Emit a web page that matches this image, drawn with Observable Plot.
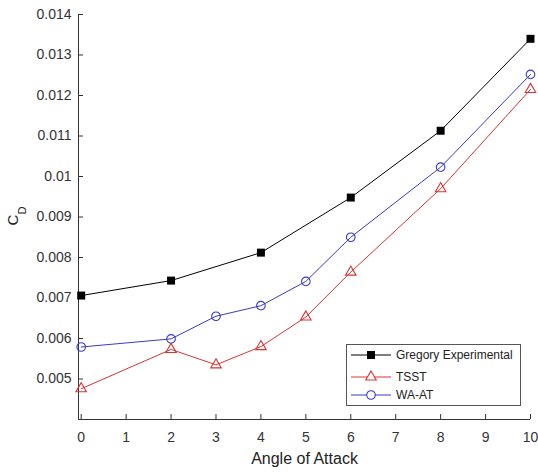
<!DOCTYPE html>
<html>
<head>
<meta charset="utf-8">
<script src="https://cdn.jsdelivr.net/npm/d3@7"></script>
<script src="https://cdn.jsdelivr.net/npm/@observablehq/plot@0.6"></script>
<style>
  html, body { margin: 0; padding: 0; background: #fff; }
  #wrap { position: relative; width: 538px; height: 473px; }
  #legend { position: absolute; left: 346px; top: 344px; width: 175px; height: 62px;
            border: 1px solid #555; background: #fff; box-sizing: border-box; }
</style>
</head>
<body>
<div id="wrap"></div>
<script>
// ---- data ----
const angles = [0, 2, 3, 4, 5, 6, 8, 10];
const gregoryAngles = [0, 2, 4, 6, 8, 10];
const gregory = [0.00706, 0.00743, 0.00812, 0.00948, 0.01113, 0.0134];
const tsst = [0.00476, 0.00573, 0.00535, 0.0058, 0.00653, 0.00764, 0.0097, 0.01215];
const waat = [0.00579, 0.00599, 0.00655, 0.00681, 0.00741, 0.0085, 0.01023, 0.01252];
const seriesNames = ["Gregory Experimental", "TSST", "WA-AT"];
const seriesColors = ["#000000", "#d83434", "#3a3ac8"];
const seriesSymbols = ["square", "triangle", "circle"];
const xTicks = [0, 1, 2, 3, 4, 5, 6, 7, 8, 9, 10];
const yTicks = [0.005, 0.006, 0.007, 0.008, 0.009, 0.01, 0.011, 0.012, 0.013, 0.014];
const xDomain = [-0.06, 10];
const yDomain = [0.004, 0.014];

const rows = [
  ...gregoryAngles.map((a, i) => ({s: 0, x: a, y: gregory[i]})),
  ...angles.map((a, i) => ({s: 1, x: a, y: tsst[i]})),
  ...angles.map((a, i) => ({s: 2, x: a, y: waat[i]}))
];

const axisColor = "#333";
const marks = [
  Plot.ruleX([xDomain[0]], {stroke: axisColor}),
  Plot.ruleY([yDomain[0]], {stroke: axisColor}),
  Plot.tickX(xTicks, {x: d => d, stroke: axisColor, insetTop: 400}),
  Plot.tickY(yTicks, {y: d => d, stroke: axisColor, insetRight: 447}),
  Plot.axisX({ticks: xTicks, tickSize: 0, tickPadding: 13, tickFormat: d => String(d), label: null}),
  Plot.axisY({ticks: yTicks, tickSize: 0, tickPadding: 7, tickFormat: d => String(d), label: null}),
  Plot.text(["Angle of Attack"], {frameAnchor: "bottom", dy: 44, lineAnchor: "bottom", fontSize: 16, fill: "#222"})
];
[0, 1, 2].forEach(s => {
  const data = rows.filter(r => r.s === s);
  marks.push(Plot.line(data, {x: "x", y: "y", stroke: seriesColors[s], strokeWidth: 1}));
});
[0, 1, 2].forEach(s => {
  const data = rows.filter(r => r.s === s);
  const filled = seriesSymbols[s] === "square";
  marks.push(Plot.dot(data, {
    x: "x", y: "y", symbol: () => seriesSymbols[s],
    r: s === 0 ? 4.5 : (s === 1 ? 3.9 : 4.3),
    fill: filled ? seriesColors[s] : "none",
    stroke: seriesColors[s], strokeWidth: filled ? 0 : 1.1
  }));
});

const chart = Plot.plot({
  width: 538, height: 473,
  marginLeft: 78, marginRight: 8, marginTop: 14, marginBottom: 54,
  style: {fontFamily: "'Liberation Sans', Arial, sans-serif", fontSize: "14px", color: "#333", background: "#fff"},
  x: {domain: xDomain},
  y: {domain: yDomain},
  symbol: {type: "identity"},
  marks
});

const svg = d3.select(chart);
const yl = svg.append("text")
  .attr("transform", "translate(18,216) rotate(-90)")
  .attr("text-anchor", "middle")
  .attr("font-family", "'Liberation Sans', Arial, sans-serif")
  .attr("font-size", 15)
  .attr("fill", "#222");
yl.append("tspan").text("C");
yl.append("tspan").attr("dy", 8).attr("font-size", 11).text("D");

const wrap = document.getElementById("wrap");
wrap.appendChild(chart);

// legend
const lg = document.createElement("div");
lg.id = "legend";
wrap.appendChild(lg);
const ls = d3.select(lg).append("svg").attr("width", 173).attr("height", 60);
seriesNames.forEach((name, i) => {
  const cy = [10, 32, 50][i];
  const g = ls.append("g").attr("transform", `translate(0,${cy})`);
  g.append("line").attr("x1", 4).attr("x2", 44).attr("y1", 0).attr("y2", 0).attr("stroke", seriesColors[i]);
  const sym = {square: d3.symbolSquare, triangle: d3.symbolTriangle, circle: d3.symbolCircle}[seriesSymbols[i]];
  const size = [64, 48, 58][i];
  g.append("path").attr("d", d3.symbol(sym, size)()).attr("transform", "translate(24,0)")
    .attr("fill", seriesSymbols[i] === "square" ? seriesColors[i] : "#fff")
    .attr("stroke", seriesColors[i]).attr("stroke-width", seriesSymbols[i] === "square" ? 0 : 1.1);
  g.append("text").attr("x", 49).attr("y", 0).attr("dy", "0.35em")
    .attr("font-family", "'Liberation Sans', Arial, sans-serif").attr("font-size", 12)
    .attr("fill", "#222").text(name);
});
</script>
</body>
</html>
